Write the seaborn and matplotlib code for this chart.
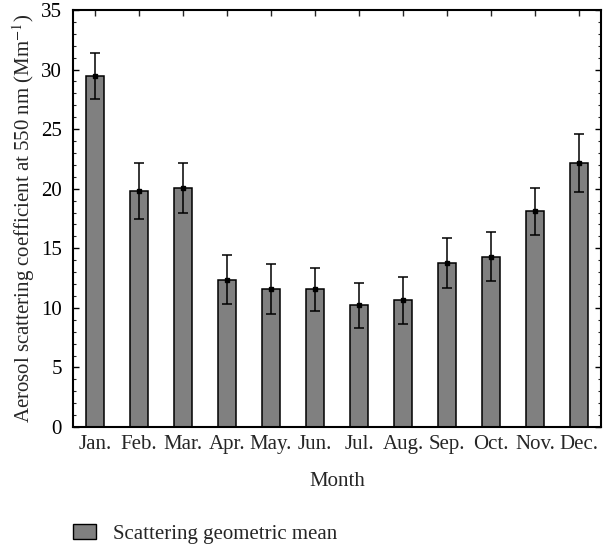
import matplotlib
matplotlib.use("Agg")
import matplotlib.pyplot as plt
import seaborn as sns
import pandas as pd
from matplotlib.ticker import MultipleLocator
from matplotlib.patches import Patch

months = ["Jan.", "Feb.", "Mar.", "Apr.", "May.", "Jun.", "Jul.", "Aug.", "Sep.", "Oct.", "Nov.", "Dec."]
scatter_mean = [29.45, 19.85, 20.03, 12.37, 11.55, 11.55, 10.21, 10.63, 13.79, 14.30, 18.10, 22.13]
scatter_err = [1.9, 2.35, 2.1, 2.07, 2.1, 1.8, 1.87, 2.0, 2.1, 2.08, 1.96, 2.43]

sns.set_theme(style="ticks")
plt.rcParams['font.family'] = ['Liberation Serif', 'DejaVu Serif']
plt.rcParams['mathtext.fontset'] = 'stix'

FS = 15

df = pd.DataFrame({"Month": months, "Value": scatter_mean})

fig = plt.figure(figsize=(6.03, 5.46), dpi=100)
ax = fig.add_axes([73/603, 1-427/546, (601-73)/603, (427-10)/546])

sns.barplot(data=df, x="Month", y="Value", color="#808080", width=0.41,
            edgecolor="black", linewidth=1.1, saturation=1, ax=ax, errorbar=None)
ax.errorbar(range(len(months)), scatter_mean, yerr=scatter_err, fmt="s", color="black",
            markersize=3.5, elinewidth=1.1, capsize=3.5, capthick=1.1)

ax.set_xlim(-0.5, 11.5)
ax.set_ylim(0, 35)
ax.yaxis.set_major_locator(MultipleLocator(5))
ax.yaxis.set_minor_locator(MultipleLocator(1))
ax.tick_params(axis="y", which="major", direction="in", length=4, width=1, right=True,
               labelsize=FS, colors="black", pad=8)
ax.tick_params(axis="y", which="minor", direction="in", length=2, width=0.8, right=True)
ax.tick_params(axis="x", which="major", direction="in", length=4, width=1, top=True,
               labelsize=FS, pad=6)
for s in ax.spines.values():
    s.set_linewidth(1.5)
    s.set_color("black")

ax.set_xlabel("Month", fontsize=FS, labelpad=13)
ax.set_ylabel("Aerosol scattering coefficient at 550 nm (Mm$^{-1}$)", fontsize=FS, labelpad=3)

handle = Patch(facecolor="#808080", edgecolor="black", linewidth=1.0)
fig.legend([handle], ["Scattering geometric mean"], loc="lower left",
           bbox_to_anchor=(0.09, -0.03), frameon=False, fontsize=FS,
           handlelength=1.1, handleheight=0.75, handletextpad=0.8)

fig.savefig("out.png", dpi=100)
